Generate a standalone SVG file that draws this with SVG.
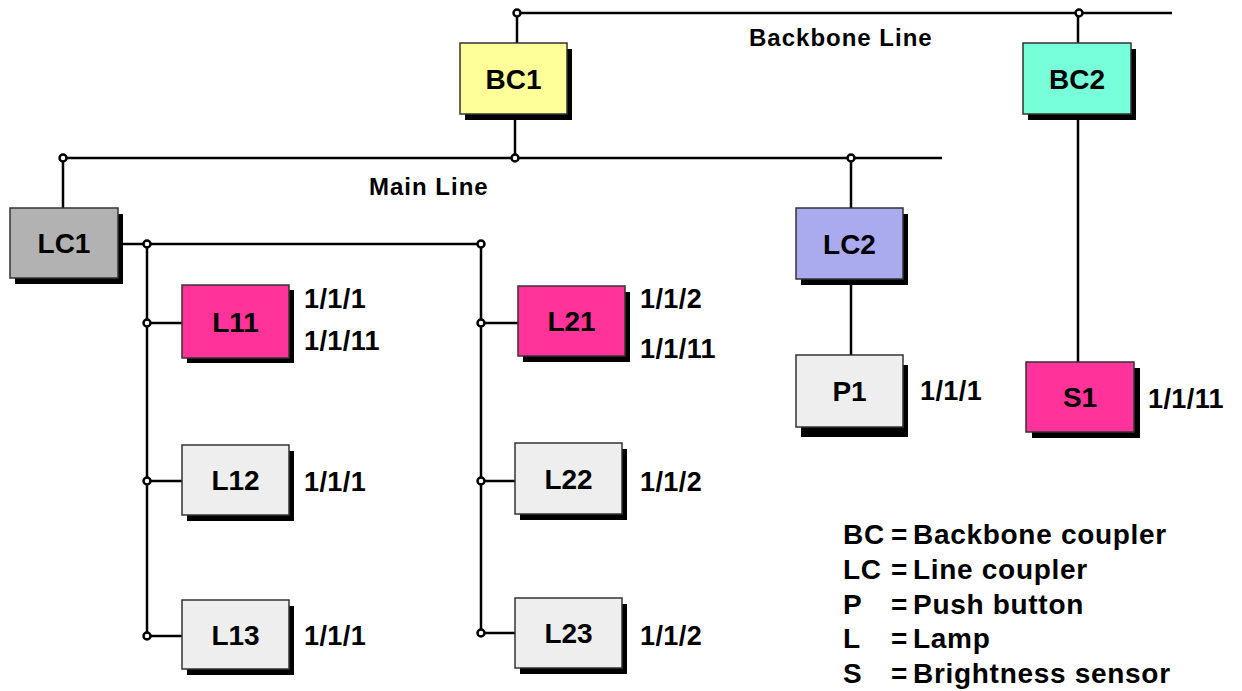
<svg xmlns="http://www.w3.org/2000/svg" width="1242" height="691" viewBox="0 0 1242 691">
<style>
.ln{stroke:#000;stroke-width:2.5;fill:none}
.dot{fill:#fff;stroke:#000;stroke-width:2.5}
.sh{fill:#000}
.bx{stroke:#333;stroke-width:1.5}
.nl{font-family:"Liberation Sans",Arial,sans-serif;font-weight:bold;font-size:28px;text-anchor:middle;fill:#000}
.num{font-family:"Liberation Sans",Arial,sans-serif;font-weight:bold;font-size:27px;letter-spacing:0.4px;fill:#000}
.lab{font-family:"Liberation Sans",Arial,sans-serif;font-weight:bold;font-size:24px;letter-spacing:1px;fill:#000}
.leg{font-family:"Liberation Sans",Arial,sans-serif;font-weight:bold;font-size:28px;letter-spacing:0.7px;fill:#000}
</style>
<rect width="1242" height="691" fill="#fff"/>
<g id="connectors">
<path class="ln" d="M517,13H1172M517,13V43M1078,13V43M1078,114V362M515,114V158M63,158H942M63,158V208M851,158V208M851,279V355M118,244H481M147,244V636M481,244V636M147,323H182M147,481H182M147,636H182M481,323H518M481,481H515M481,633H515"/>
<circle class="dot" cx="517" cy="13" r="3.5"/>
<circle class="dot" cx="1079" cy="13" r="3.5"/>
<circle class="dot" cx="63" cy="158" r="3.5"/>
<circle class="dot" cx="515" cy="158" r="3.5"/>
<circle class="dot" cx="851" cy="158" r="3.5"/>
<circle class="dot" cx="147" cy="244" r="3.5"/>
<circle class="dot" cx="481" cy="244" r="3.5"/>
<circle class="dot" cx="147" cy="323" r="3.5"/>
<circle class="dot" cx="147" cy="481" r="3.5"/>
<circle class="dot" cx="147" cy="636" r="3.5"/>
<circle class="dot" cx="481" cy="323" r="3.5"/>
<circle class="dot" cx="481" cy="481" r="3.5"/>
<circle class="dot" cx="481" cy="633" r="3.5"/>
</g>
<g id="line-labels">
<text class="lab" x="749" y="46">Backbone Line</text>
<text class="lab" x="369" y="195">Main Line</text>
</g>
<g id="BC1"><rect class="sh" x="465" y="49" width="107" height="71"/><rect class="bx" x="460" y="43" width="107" height="71" fill="#FFFF99"/><text class="nl" x="513.5" y="88.5">BC1</text></g>
<g id="BC2"><rect class="sh" x="1028" y="49" width="108" height="71"/><rect class="bx" x="1023" y="43" width="108" height="71" fill="#77FFD9"/><text class="nl" x="1077" y="88.5">BC2</text></g>
<g id="LC1"><rect class="sh" x="15" y="214" width="108" height="70"/><rect class="bx" x="10" y="208" width="108" height="70" fill="#B2B2B2"/><text class="nl" x="64" y="253">LC1</text></g>
<g id="LC2"><rect class="sh" x="801" y="214" width="107" height="71"/><rect class="bx" x="796" y="208" width="107" height="71" fill="#AAAAEE"/><text class="nl" x="849.5" y="253.5">LC2</text></g>
<g id="L11"><rect class="sh" x="187" y="290" width="107" height="73"/><rect class="bx" x="182" y="285" width="107" height="73" fill="#FF3399"/><text class="nl" x="235.5" y="331.5">L11</text><text class="num" x="304" y="308">1/1/1</text><text class="num" x="304" y="350">1/1/11</text></g>
<g id="L12"><rect class="sh" x="187" y="451" width="107" height="70"/><rect class="bx" x="182" y="445" width="107" height="70" fill="#EEEEEE"/><text class="nl" x="235.5" y="490">L12</text><text class="num" x="304" y="491">1/1/1</text></g>
<g id="L13"><rect class="sh" x="187" y="606" width="107" height="69"/><rect class="bx" x="182" y="600" width="107" height="69" fill="#EEEEEE"/><text class="nl" x="235.5" y="644.5">L13</text><text class="num" x="304" y="645">1/1/1</text></g>
<g id="L21"><rect class="sh" x="523" y="292" width="107" height="70"/><rect class="bx" x="518" y="286" width="107" height="70" fill="#FF3399"/><text class="nl" x="571.5" y="331">L21</text><text class="num" x="640" y="308">1/1/2</text><text class="num" x="640" y="358">1/1/11</text></g>
<g id="L22"><rect class="sh" x="520" y="449" width="107" height="71"/><rect class="bx" x="515" y="443" width="107" height="71" fill="#EEEEEE"/><text class="nl" x="568.5" y="488.5">L22</text><text class="num" x="640" y="491">1/1/2</text></g>
<g id="L23"><rect class="sh" x="520" y="604" width="107" height="70"/><rect class="bx" x="515" y="598" width="107" height="70" fill="#EEEEEE"/><text class="nl" x="568.5" y="643">L23</text><text class="num" x="640" y="645">1/1/2</text></g>
<g id="P1"><rect class="sh" x="801" y="365" width="107" height="72"/><rect class="bx" x="796" y="355" width="107" height="72" fill="#EEEEEE"/><text class="nl" x="849.5" y="401">P1</text><text class="num" x="920" y="400">1/1/1</text></g>
<g id="S1"><rect class="sh" x="1032" y="368" width="108" height="70"/><rect class="bx" x="1026" y="362" width="108" height="70" fill="#FF3399"/><text class="nl" x="1080" y="407">S1</text><text class="num" x="1148" y="408">1/1/11</text></g>
<g id="legend">
<text class="leg" x="843" y="544">BC</text><text class="leg" x="891" y="544">=</text><text class="leg" x="913" y="544">Backbone coupler</text>
<text class="leg" x="843" y="579">LC</text><text class="leg" x="891" y="579">=</text><text class="leg" x="913" y="579">Line coupler</text>
<text class="leg" x="843" y="614">P</text><text class="leg" x="891" y="614">=</text><text class="leg" x="913" y="614">Push button</text>
<text class="leg" x="843" y="648">L</text><text class="leg" x="891" y="648">=</text><text class="leg" x="913" y="648">Lamp</text>
<text class="leg" x="843" y="683">S</text><text class="leg" x="891" y="683">=</text><text class="leg" x="913" y="683">Brightness sensor</text>
</g>
</svg>
